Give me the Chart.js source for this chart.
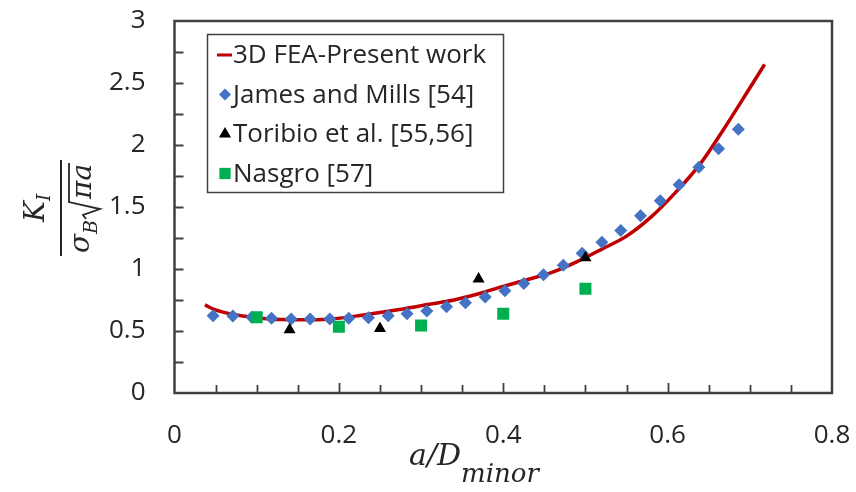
<!DOCTYPE html>
<html>
<head>
<meta charset="utf-8">
<script src="https://cdn.jsdelivr.net/npm/chart.js@4.4.1/dist/chart.umd.min.js"></script>
<style>
  html, body { margin: 0; padding: 0; background: #ffffff; }
  #wrap { width: 856px; height: 492px; }
</style>
</head>
<body>
<div id="wrap"><canvas id="kiChart" width="856" height="492"></canvas></div>
<script>
// 3D FEA curve
const feaX = [0.037, 0.05, 0.07, 0.10, 0.13, 0.16, 0.19, 0.22, 0.25, 0.28, 0.31, 0.34, 0.37, 0.40, 0.43, 0.46, 0.49, 0.52, 0.55, 0.58, 0.61, 0.64, 0.67, 0.70, 0.718];
const feaY = [0.71, 0.67, 0.635, 0.607, 0.592, 0.59, 0.597, 0.62, 0.65, 0.68, 0.715, 0.75, 0.80, 0.86, 0.915, 0.975, 1.06, 1.16, 1.265, 1.42, 1.62, 1.85, 2.145, 2.46, 2.65];

// James and Mills [54]
const jamesX = [0.047, 0.071, 0.094, 0.118, 0.142, 0.165, 0.189, 0.212, 0.236, 0.260, 0.283, 0.307, 0.331, 0.354, 0.378, 0.402, 0.425, 0.449, 0.473, 0.496, 0.520, 0.543, 0.567, 0.591, 0.614, 0.638, 0.662, 0.686];
const jamesY = [0.623, 0.621, 0.61, 0.602, 0.597, 0.597, 0.597, 0.602, 0.607, 0.623, 0.64, 0.661, 0.696, 0.728, 0.774, 0.824, 0.884, 0.954, 1.03, 1.127, 1.215, 1.31, 1.43, 1.55, 1.68, 1.82, 1.97, 2.127];

// Toribio et al. [55,56]
const toribioX = [0.14, 0.25, 0.37, 0.50];
const toribioY = [0.51, 0.52, 0.92, 1.09];

// Nasgro [57]
const nasgroX = [0.10, 0.20, 0.30, 0.40, 0.50];
const nasgroY = [0.61, 0.535, 0.545, 0.64, 0.84];

const xTicks = [0, 0.2, 0.4, 0.6, 0.8];
const yTicks = [0, 0.5, 1, 1.5, 2, 2.5, 3];
const xTickLabels = ['0', '0.2', '0.4', '0.6', '0.8'];
const yTickLabels = ['0', '0.5', '1', '1.5', '2', '2.5', '3'];

const toPoints = (xs, ys) => xs.map((x, i) => ({ x: x, y: ys[i] }));

const legendItems = [
  { label: '3D FEA-Present work', kind: 'line', color: '#C00000' },
  { label: 'James and Mills [54]', kind: 'rectRot', color: '#4472C4', r: 6 },
  { label: 'Toribio et al. [55,56]', kind: 'triangle', color: '#000000', r: 7 },
  { label: 'Nasgro [57]', kind: 'rect', color: '#00B050', r: 8 }
];

const TEXT = '#262626';
const AXIS = '#404040';
const SANS = '"Open Sans", "Noto Sans", sans-serif';
const SERIF = '"DejaVu Serif", serif';

// inward ticks, frame, axis titles and the boxed legend
const decorPlugin = {
  id: 'decor',
  afterDatasetsDraw(chart) {
    const ctx = chart.ctx;
    const a = chart.chartArea;
    const xs = chart.scales.x;
    const ys = chart.scales.y;
    ctx.save();
    ctx.strokeStyle = AXIS;
    ctx.lineWidth = 2.5;
    ctx.strokeRect(a.left, a.top, a.right - a.left, a.bottom - a.top);

    ctx.lineWidth = 1.8;
    ctx.beginPath();
    for (let v = 0.05; v < 0.8; v += 0.05) {
      const px = Math.round(xs.getPixelForValue(v)) + 0.5;
      const major = Math.abs(v / 0.2 - Math.round(v / 0.2)) < 1e-6;
      ctx.moveTo(px, a.bottom);
      ctx.lineTo(px, a.bottom - (major ? 10 : 8));
    }
    for (let v = 0.25; v < 3; v += 0.25) {
      const py = Math.round(ys.getPixelForValue(v)) + 0.5;
      ctx.moveTo(a.left, py);
      ctx.lineTo(a.left + 9, py);
    }
    ctx.stroke();

    // x title a/D_minor
    ctx.fillStyle = TEXT;
    ctx.textBaseline = 'alphabetic';
    ctx.textAlign = 'left';
    ctx.font = 'italic 30px ' + SERIF;
    const mainW = ctx.measureText('a/D').width;
    ctx.font = 'italic 26px ' + SERIF;
    const subW = ctx.measureText('minor').width;
    let tx = 474 - (mainW + subW) / 2;
    ctx.font = 'italic 30px ' + SERIF;
    ctx.fillText('a/D', tx, 465);
    ctx.font = 'italic 26px ' + SERIF;
    ctx.fillText('minor', tx + mainW, 482);

    // y title K_I / (sigma_B sqrt(pi a))
    ctx.translate(61, 208);
    ctx.rotate(-Math.PI / 2);
    ctx.beginPath();
    ctx.lineWidth = 2;
    ctx.strokeStyle = TEXT;
    ctx.moveTo(-48, 0);
    ctx.lineTo(48, 0);
    ctx.stroke();

    ctx.font = 'italic 28px ' + SERIF;
    const kW = ctx.measureText('K').width;
    ctx.font = 'italic 18px ' + SERIF;
    const iW = ctx.measureText('I').width;
    let u = -(kW + iW) / 2;
    ctx.font = 'italic 28px ' + SERIF;
    ctx.fillText('K', u, -17);
    ctx.font = 'italic 18px ' + SERIF;
    ctx.fillText('I', u + kW, -11);

    ctx.font = 'italic 28px ' + SERIF;
    const sW = ctx.measureText('σ').width;
    const paW = ctx.measureText('πa').width;
    ctx.font = 'italic 19px ' + SERIF;
    const bW = ctx.measureText('B').width;
    const radW = 20;
    u = -(sW + bW + radW + paW + 2) / 2;
    ctx.font = 'italic 28px ' + SERIF;
    ctx.fillText('σ', u, 28);
    u += sW;
    ctx.font = 'italic 19px ' + SERIF;
    ctx.fillText('B', u, 36);
    u += bW + 1;
    ctx.beginPath();
    ctx.lineWidth = 1.8;
    ctx.moveTo(u, 25);
    ctx.lineTo(u + 4, 22);
    ctx.lineTo(u + 10, 39);
    ctx.lineTo(u + 17, 8);
    ctx.lineTo(u + radW + paW + 1, 8);
    ctx.stroke();
    u += radW;
    ctx.font = 'italic 28px ' + SERIF;
    ctx.fillText('πa', u, 30);
    ctx.restore();

    // legend box
    ctx.save();
    ctx.fillStyle = '#ffffff';
    ctx.fillRect(207, 34, 297, 159);
    ctx.strokeStyle = '#404040';
    ctx.lineWidth = 1.5;
    ctx.strokeRect(207.5, 34.5, 296, 158);
    ctx.font = '26px ' + SANS;
    ctx.textBaseline = 'middle';
    ctx.textAlign = 'left';
    legendItems.forEach((item, i) => {
      const cy = 55 + i * 39.5;
      if (item.kind === 'line') {
        ctx.strokeStyle = item.color;
        ctx.lineWidth = 3;
        ctx.beginPath();
        ctx.moveTo(217, cy);
        ctx.lineTo(232, cy);
        ctx.stroke();
      } else {
        ctx.fillStyle = item.color;
        Chart.helpers.drawPoint(ctx, { pointStyle: item.kind, radius: item.r, rotation: 0, borderWidth: 0 }, 225, cy);
      }
      ctx.fillStyle = TEXT;
      ctx.fillText(item.label, 233, cy + 1);
    });
    ctx.restore();
  }
};

new Chart(document.getElementById('kiChart'), {
  type: 'scatter',
  data: {
    datasets: [
      {
        label: legendItems[3].label,
        data: toPoints(nasgroX, nasgroY),
        pointStyle: 'rect',
        pointRadius: 8.5,
        backgroundColor: '#00B050',
        borderWidth: 0,
        order: 1
      },
      {
        label: legendItems[2].label,
        data: toPoints(toribioX, toribioY),
        pointStyle: 'triangle',
        pointRadius: 7,
        backgroundColor: '#000000',
        borderWidth: 0,
        order: 2
      },
      {
        label: legendItems[1].label,
        data: toPoints(jamesX, jamesY),
        pointStyle: 'rectRot',
        pointRadius: 6.5,
        backgroundColor: '#4472C4',
        borderWidth: 0,
        order: 3
      },
      {
        type: 'line',
        label: legendItems[0].label,
        data: toPoints(feaX, feaY),
        borderColor: '#C00000',
        borderWidth: 3.5,
        pointRadius: 0,
        showLine: true,
        fill: false,
        cubicInterpolationMode: 'monotone',
        order: 4
      }
    ]
  },
  options: {
    responsive: false,
    animation: false,
    devicePixelRatio: 1,
    layout: { padding: { left: 0, right: 24, top: 21, bottom: 0 } },
    plugins: {
      legend: { display: false },
      tooltip: { enabled: false }
    },
    scales: {
      x: {
        type: 'linear',
        min: 0,
        max: 0.8,
        afterBuildTicks: scale => { scale.ticks = xTicks.map(v => ({ value: v })); },
        afterFit: scale => {
          scale.height = 99;
          scale.paddingLeft = 0;
          scale.paddingRight = 0;
        },
        grid: { display: false, drawTicks: false },
        border: { display: false },
        ticks: {
          padding: 27,
          color: TEXT,
          font: { family: SANS, size: 26 },
          callback: (value, index) => xTickLabels[index]
        }
      },
      y: {
        type: 'linear',
        min: 0,
        max: 3,
        afterBuildTicks: scale => { scale.ticks = yTicks.map(v => ({ value: v })); },
        afterFit: scale => {
          scale.width = 174.5;
          scale.paddingTop = 0;
          scale.paddingBottom = 0;
        },
        grid: { display: false, drawTicks: false },
        border: { display: false },
        ticks: {
          padding: 29,
          color: TEXT,
          font: { family: SANS, size: 26 },
          callback: (value, index) => yTickLabels[index]
        }
      }
    }
  },
  plugins: [decorPlugin]
});
</script>
</body>
</html>
